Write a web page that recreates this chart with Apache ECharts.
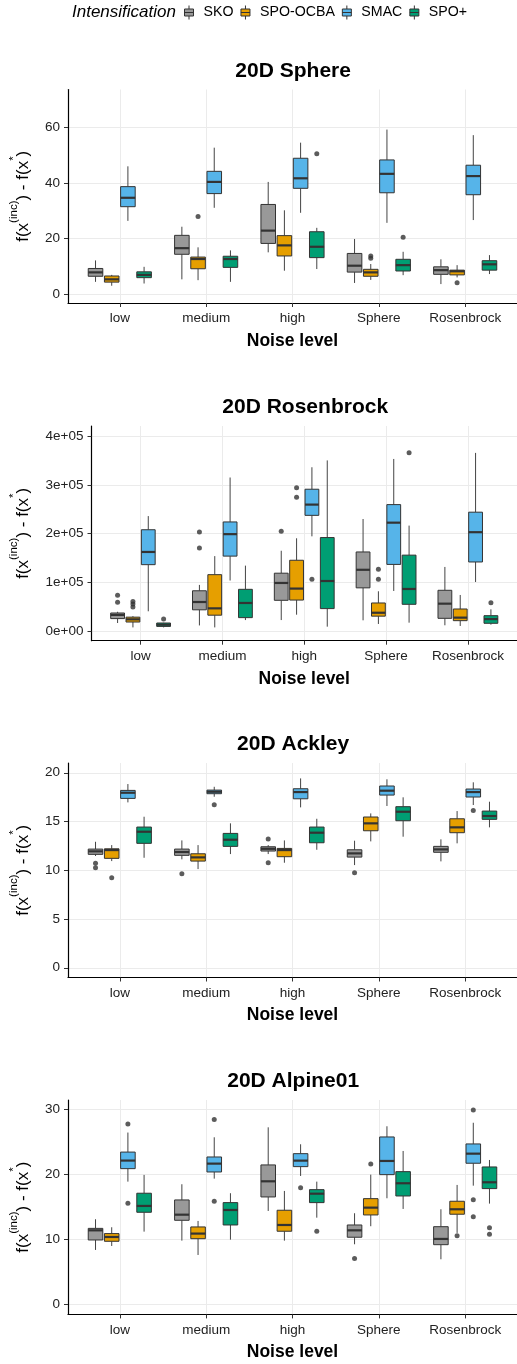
<!DOCTYPE html>
<html><head><meta charset="utf-8">
<script src="https://cdn.jsdelivr.net/npm/echarts@6/dist/echarts.min.js"></script>
<style>html,body{margin:0;padding:0;background:#fff}#c{width:517px;height:1364px}</style>
</head><body><div id="c"></div>
<script>
// ---------------- DATA ----------------
const categories = ['low', 'medium', 'high', 'Sphere', 'Rosenbrock'];
const algorithms = ['SKO', 'SPO-OCBA', 'SMAC', 'SPO+'];
const panelTitles = ['20D Sphere', '20D Rosenbrock', '20D Ackley', '20D Alpine01'];
const legendTitle = 'Intensification';
const xAxisTitle = 'Noise level';

// each entry: [lower whisker, Q1, median, Q3, upper whisker] for low, medium, high, Sphere, Rosenbrock
const sphereSKO  = [[4.5, 6.5, 7.9, 9.3, 12.2], [5.4, 14.4, 16.6, 21.2, 24.3], [15.1, 18.3, 22.9, 32.3, 40.4], [4.1, 8.0, 10.3, 14.7, 19.9], [3.7, 7.2, 8.7, 9.9, 12.6]];
const sphereOCBA = [[3.1, 4.4, 5.4, 6.6, 7.0], [5.1, 9.2, 12.7, 13.4, 16.9], [8.5, 13.8, 17.6, 21.1, 30.2], [5.2, 6.5, 7.9, 9.0, 10.9], [6.1, 7.0, 8.3, 8.7, 10.5]];
const sphereSMAC = [[26.4, 31.5, 34.7, 38.7, 46.0], [31.1, 36.2, 40.4, 44.2, 52.7], [29.3, 38.1, 41.7, 48.9, 54.5], [25.7, 36.5, 43.3, 48.3, 59.2], [26.7, 35.8, 42.5, 46.4, 57.2]];
const sphereSPOp = [[3.9, 6.0, 7.0, 8.1, 9.9], [4.5, 9.7, 12.7, 13.7, 15.8], [9.1, 13.2, 17.1, 22.5, 23.9], [6.9, 8.4, 10.5, 12.6, 15.3], [7.3, 8.7, 10.8, 12.1, 14.1]];
// outliers: [category index, algorithm index, value]
const sphereOutliers = [[1, 1, 28.0], [2, 3, 50.5], [3, 1, 13.0], [3, 1, 13.8], [3, 3, 20.5], [4, 1, 4.2]];
const sphereTicks = [0, 20, 40, 60];
const sphereTickLabels = ['0', '20', '40', '60'];

const rosenSKO  = [[17000, 26000, 33500, 37500, 40000], [12000, 44000, 60000, 83000, 95000], [23000, 63500, 99000, 119000, 165000], [22500, 89000, 126000, 162500, 230000], [12300, 26600, 56600, 84000, 131800]];
const rosenOCBA = [[8000, 19000, 24500, 29000, 31000], [8000, 33000, 47000, 116000, 154000], [34000, 64000, 87500, 145500, 190500], [15000, 31000, 38000, 58000, 82000], [10900, 21800, 28000, 45700, 74400]];
const rosenSMAC = [[41000, 136500, 162500, 208000, 236000], [104000, 154000, 199000, 224000, 315000], [194500, 237500, 259500, 291000, 336000], [82600, 137000, 222500, 259500, 353000], [101000, 142000, 203000, 244000, 365400]];
const rosenSPOp = [[8000, 10000, 13500, 17000, 17500], [23000, 28000, 58000, 86000, 134500], [9500, 46500, 103000, 192000, 350000], [17700, 55300, 86700, 156000, 216500], [13600, 16400, 25000, 32000, 45000]];
const rosenOutliers = [[0, 0, 59400], [0, 0, 73700], [0, 1, 50000], [0, 1, 56000], [0, 1, 61000], [0, 3, 25000], [1, 0, 170700], [1, 0, 203500], [2, 0, 205000], [2, 1, 274500], [2, 1, 294000], [2, 2, 106500], [3, 1, 106500], [3, 1, 127000], [3, 3, 365500], [4, 3, 58700]];
const rosenTicks = [0, 100000, 200000, 300000, 400000];
const rosenTickLabels = ['0e+00', '1e+05', '2e+05', '3e+05', '4e+05'];

const ackleySKO  = [[11.46, 11.63, 11.94, 12.17, 12.92], [11.12, 11.53, 11.87, 12.17, 13.06], [11.66, 11.97, 12.2, 12.41, 12.58], [10.53, 11.35, 11.73, 12.1, 13.03], [10.91, 11.84, 12.14, 12.45, 13.17]];
const ackleyOCBA = [[10.94, 11.22, 12.07, 12.2, 12.58], [10.12, 10.94, 11.32, 11.69, 12.58], [10.77, 11.39, 12.07, 12.24, 13.06], [12.96, 14.05, 14.81, 15.46, 15.83], [12.76, 13.85, 14.4, 15.28, 16.07]];
const ackleySMAC = [[16.96, 17.37, 17.95, 18.19, 18.84], [17.54, 17.85, 18.05, 18.22, 18.56], [16.45, 17.33, 18.02, 18.36, 19.42], [16.59, 17.71, 18.16, 18.64, 19.33], [16.69, 17.51, 18.02, 18.33, 19.02]];
const ackleySPOp = [[11.28, 12.76, 13.95, 14.43, 15.49], [11.66, 12.45, 13.13, 13.78, 14.81], [12.1, 12.82, 13.85, 14.43, 15.28], [13.44, 15.08, 16.0, 16.52, 17.48], [14.4, 15.22, 15.56, 16.07, 17.03]];
const ackleyOutliers = [[0, 0, 10.71], [0, 0, 10.26], [0, 1, 9.23], [1, 0, 9.64], [1, 2, 16.72], [2, 0, 13.2], [2, 0, 10.77], [3, 0, 9.74], [4, 2, 16.14]];
const ackleyTicks = [0, 5, 10, 15, 20];
const ackleyTickLabels = ['0', '5', '10', '15', '20'];

const alpineSKO  = [[8.39, 9.92, 11.4, 11.7, 13.1], [9.82, 12.94, 13.8, 16.06, 18.47], [14.37, 16.52, 18.92, 21.43, 27.2], [9.26, 10.34, 11.4, 12.22, 14.02], [6.96, 9.2, 10.08, 11.96, 14.63]];
const alpineOCBA = [[9.0, 9.72, 10.38, 10.9, 11.87], [7.62, 10.12, 10.9, 11.92, 12.84], [9.82, 11.26, 12.22, 14.48, 17.44], [12.03, 13.76, 14.88, 16.26, 19.94], [11.0, 13.87, 14.63, 15.86, 18.36]];
const alpineSMAC = [[18.87, 20.86, 22.1, 23.4, 26.4], [19.33, 20.35, 21.63, 22.65, 25.67], [19.74, 21.17, 22.09, 23.16, 24.6], [16.32, 19.94, 22.04, 25.72, 27.36], [18.25, 21.69, 23.16, 24.65, 27.9]];
const alpineSPOp = [[11.2, 14.17, 15.14, 17.09, 19.9], [9.97, 12.22, 14.52, 15.65, 17.09], [13.34, 15.65, 17.02, 17.64, 18.87], [14.68, 16.67, 18.62, 20.4, 23.57], [15.5, 17.8, 18.77, 21.12, 22.19]];
const alpineOutliers = [[0, 2, 27.7], [0, 2, 15.55], [1, 2, 28.4], [1, 2, 15.86], [2, 2, 17.94], [2, 3, 11.26], [3, 0, 7.06], [3, 1, 21.58], [4, 1, 10.58], [4, 2, 29.86], [4, 2, 16.1], [4, 2, 13.5], [4, 3, 11.81], [4, 3, 10.8]];
const alpineTicks = [0, 10, 20, 30];
const alpineTickLabels = ['0', '10', '20', '30'];

// ---------------- STYLE / LAYOUT ----------------
const colors = ['#999999', '#E69F00', '#56B4E9', '#009E73'];
const FONT = '"Liberation Sans", Arial, sans-serif';
const panels = [
  { stats: [sphereSKO, sphereOCBA, sphereSMAC, sphereSPOp], outliers: sphereOutliers, ticks: sphereTicks, labels: sphereTickLabels,
    yMin: -3.1, yMax: 73.6, left: 66.75, top: 89.5, width: 452.8, height: 213.5, nameGap: 36 },
  { stats: [rosenSKO, rosenOCBA, rosenSMAC, rosenSPOp], outliers: rosenOutliers, ticks: rosenTicks, labels: rosenTickLabels,
    yMin: -19250, yMax: 420500, left: 90.5, top: 426, width: 429.4, height: 214.7, nameGap: 59.5 },
  { stats: [ackleySKO, ackleyOCBA, ackleySMAC, ackleySPOp], outliers: ackleyOutliers, ticks: ackleyTicks, labels: ackleyTickLabels,
    yMin: -1.0, yMax: 21.0, left: 66.75, top: 763, width: 452.8, height: 214.5, nameGap: 36 },
  { stats: [alpineSKO, alpineOCBA, alpineSMAC, alpineSPOp], outliers: alpineOutliers, ticks: alpineTicks, labels: alpineTickLabels,
    yMin: -1.495, yMax: 31.39, left: 66.75, top: 1100, width: 452.8, height: 214.4, nameGap: 36 }
];
const DODGE = 0.1875;          // dodge width per box (category units)
const HALF_BOX = 0.084375;     // half box width (category units)
const dodge = a => (a - 1.5) * DODGE;

function renderBox(params, api) {
  const x = api.value(0);
  const lo = api.coord([x, api.value(1)]);
  const q1 = api.coord([x, api.value(2)]);
  const md = api.coord([x, api.value(3)]);
  const q3 = api.coord([x, api.value(4)]);
  const hi = api.coord([x, api.value(5)]);
  const half = api.size([1, 0])[0] * HALF_BOX;
  const cx = lo[0];
  const stroke = '#333333';
  return {
    type: 'group',
    children: [
      { type: 'line', shape: { x1: cx, y1: lo[1], x2: cx, y2: q1[1] }, style: { stroke: '#444', lineWidth: 1 } },
      { type: 'line', shape: { x1: cx, y1: hi[1], x2: cx, y2: q3[1] }, style: { stroke: '#444', lineWidth: 1 } },
      { type: 'rect', shape: { x: cx - half, y: q3[1], width: half * 2, height: q1[1] - q3[1] },
        style: { fill: api.visual('color'), stroke, lineWidth: 1 } },
      { type: 'line', shape: { x1: cx - half, y1: md[1], x2: cx + half, y2: md[1] }, style: { stroke, lineWidth: 2.2 } }
    ]
  };
}

const grid = [], xAxis = [], yAxis = [], series = [];
const title = [{
  text: legendTitle, left: 72, top: 4, padding: 0,
  textStyle: { fontFamily: FONT, fontSize: 17, fontStyle: 'italic', fontWeight: 'normal', color: '#000' }
}];

panels.forEach((p, i) => {
  grid.push({ left: p.left, top: p.top, width: p.width, height: p.height, containLabel: false });
  title.push({
    text: panelTitles[i], left: p.left + p.width / 2, top: p.top - 29, textAlign: 'center', padding: 0,
    textStyle: { fontFamily: FONT, fontSize: 21, fontWeight: 'bold', color: '#000' }
  });
  xAxis.push({
    type: 'value', gridIndex: i, min: -0.6, max: categories.length - 0.4,
    name: xAxisTitle, nameLocation: 'middle', nameGap: 29,
    nameTextStyle: { fontFamily: FONT, fontSize: 17.5, fontWeight: 'bold', color: '#000', verticalAlign: 'top' },
    axisLine: { onZero: false, lineStyle: { color: '#000', width: 1.2 } },
    axisTick: { show: true, length: 4, customValues: categories.map((c, k) => k), lineStyle: { color: '#333' } },
    axisLabel: { customValues: categories.map((c, k) => k), formatter: v => categories[Math.round(v)],
      fontFamily: FONT, fontSize: 13.5, color: '#222', margin: 8.5 },
    splitLine: { show: true, lineStyle: { color: '#ebebeb', width: 1 } }
  });
  yAxis.push({
    type: 'value', gridIndex: i, min: p.yMin, max: p.yMax,
    name: '{m|f(x}{s|(inc)}{m|) - f(x}{s|*}{m|)}', nameLocation: 'middle', nameGap: p.nameGap, nameRotate: 90,
    nameTextStyle: {
      rich: {
        m: { fontFamily: FONT, fontSize: 17, color: '#000', verticalAlign: 'bottom', lineHeight: 24 },
        s: { fontFamily: FONT, fontSize: 11.5, color: '#000', verticalAlign: 'top', lineHeight: 24 }
      }
    },
    axisLine: { show: true, onZero: false, lineStyle: { color: '#000', width: 1.2 } },
    axisTick: { show: true, length: 4, customValues: p.ticks, lineStyle: { color: '#333' } },
    axisLabel: { customValues: p.ticks, formatter: v => p.labels[p.ticks.indexOf(v)] ?? '',
      fontFamily: FONT, fontSize: 13.5, color: '#222', margin: 8 },
    splitLine: { show: true, lineStyle: { color: '#ebebeb', width: 1 } }
  });
  p.stats.forEach((st, a) => {
    series.push({
      type: 'custom', name: algorithms[a], xAxisIndex: i, yAxisIndex: i,
      itemStyle: { color: colors[a], borderColor: '#333', borderWidth: 1 },
      encode: { x: 0, y: [1, 2, 3, 4, 5] },
      data: st.map((s, c) => [c + dodge(a), ...s]),
      renderItem: renderBox, silent: true, z: 2
    });
  });
  series.push({
    type: 'scatter', name: 'outliers', xAxisIndex: i, yAxisIndex: i, silent: true, z: 3,
    symbolSize: 5, itemStyle: { color: '#333' },
    data: p.outliers.map(([c, a, v]) => [c + dodge(a), v])
  });
});

const chart = echarts.init(document.getElementById('c'), null, { renderer: 'canvas' });
chart.setOption({
  animation: false,
  backgroundColor: '#fff',
  title, grid, xAxis, yAxis, series,
  legend: {
    data: algorithms, left: 184, top: 5, padding: 0, itemGap: 7,
    itemWidth: 9, itemHeight: 14,
    icon: 'path://M4.5,0V3.5M0,3.5H9V10.5H0ZM0,7H9M4.5,10.5V14',
    itemStyle: { borderColor: '#333', borderWidth: 1 },
    textStyle: { fontFamily: FONT, fontSize: 14.2, color: '#000', padding: [0, 0, 0, 5] },
    selectedMode: false
  }
});
</script></body></html>
